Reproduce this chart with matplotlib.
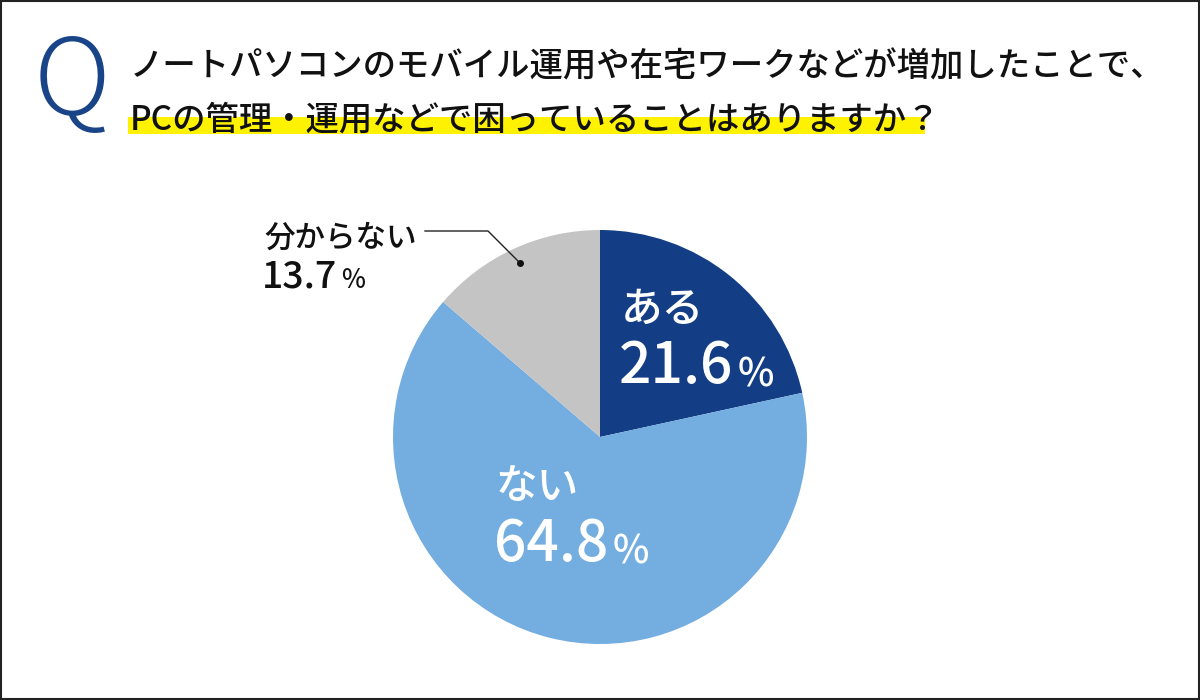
import matplotlib
matplotlib.use('Agg')
import matplotlib.pyplot as plt
from matplotlib.patches import Rectangle

plt.rcParams['font.family'] = ['Noto Sans CJK JP', 'DejaVu Sans']

# データ
labels = ['ある', 'ない', '分からない']
values = [21.6, 64.8, 13.7]
colors = ['#133d85', '#74ade0', '#c4c4c4']

title1 = 'ノートパソコンのモバイル運用や在宅ワークなどが増加したことで、'
title2 = 'PCの管理・運用などで困っていることはありますか？'

fig = plt.figure(figsize=(12, 7), dpi=100)

# 円グラフ (中心 600,437 / 半径 207 px)
cx, cy, r = 600, 437, 207
ax = fig.add_axes([(cx - r) / 1200, (700 - cy - r) / 700, 2 * r / 1200, 2 * r / 700])
ax.pie(values, colors=colors, startangle=90, counterclock=False, radius=1,
       wedgeprops=dict(linewidth=0))
ax.set_xlim(-1, 1)
ax.set_ylim(-1, 1)
ax.set_aspect('auto')
ax.axis('off')

# テキスト用のレイヤー (ピクセル座標)
ov = fig.add_axes([0, 0, 1, 1], zorder=5)
ov.set_xlim(0, 1200)
ov.set_ylim(700, 0)
ov.axis('off')
ov.patch.set_alpha(0)

# 枠
ov.add_patch(Rectangle((1, 1), 1198, 698, fill=False, ec='#222222', lw=1.5))

# タイトル
ov.text(72, 84, 'Q', fontsize=76, color='#1a4488', fontweight='light',
        ha='center', va='center')
ov.add_patch(Rectangle((128, 117), 797, 17, color='#fff200', lw=0, zorder=1))
ov.text(130, 67, title1, fontsize=24, color='#111111', fontweight='medium',
        ha='left', va='center', zorder=2)
ov.text(130, 120, title2, fontsize=24, color='#111111', fontweight='medium',
        ha='left', va='center', zorder=2)


def label(x, y, name, pct, col, nsize, psize):
    ov.text(x, y, name, fontsize=nsize, color=col, fontweight='medium',
            ha='left', va='baseline')
    t = ov.text(x - 2, y + psize * 1.5, f'{pct}', fontsize=psize, color=col,
                fontweight='medium', ha='left', va='baseline')
    ov.annotate('%', xy=(1, 0), xycoords=t, xytext=(3, 1), textcoords='offset points',
                fontsize=psize * 0.68, color=col, fontweight='medium',
                ha='left', va='bottom')


label(621, 322, labels[0], values[0], 'white', 30, 41)
label(496, 499, labels[1], values[1], 'white', 30, 41)
label(264, 247, labels[2], values[2], '#111111', 22, 27)

# 引き出し線
ov.plot([425, 488, 520], [231, 231, 263], color='#222222', lw=1)
ov.plot([520], [263], 'o', color='#111111', ms=4)

plt.savefig('out.png', dpi=100)
